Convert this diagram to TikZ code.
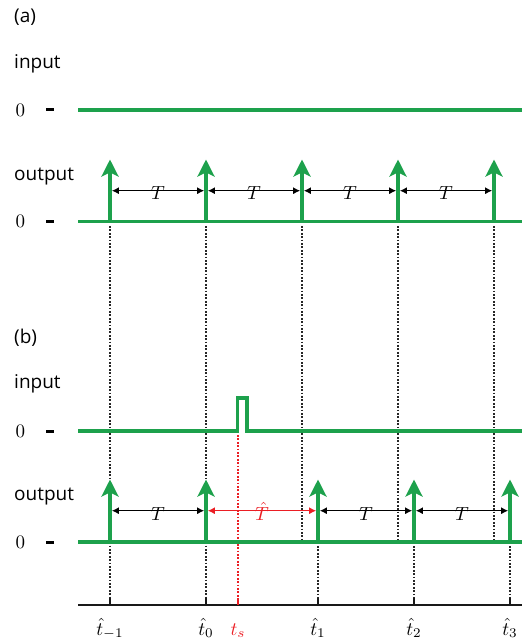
\documentclass[tikz,border=0pt]{standalone}
\usepackage{graphicx}
\usepackage{fontspec}
\newfontfamily\labfont{Open Sans}
\usetikzlibrary{arrows.meta}
\definecolor{sig}{RGB}{29,161,76}
\definecolor{hot}{RGB}{235,30,36}
\newcommand\bigmath[1]{\scalebox{1.9}{$#1$}}
\tikzset{
  wave/.style={draw=sig, line width=3.2pt, line join=miter},
  spike/.style={draw=sig, line width=3.2pt, -{Stealth[length=17pt,width=17pt,inset=4pt]}},
  period/.style={draw=black, line width=1.3pt, {Latex[length=7pt,width=7pt]}-{Latex[length=7pt,width=7pt]}},
  guide/.style={draw=black!85, line width=1.7pt, dash pattern=on 1.7pt off 1.7pt},
  hotguide/.style={guide, draw=hot},
  zerotick/.style={draw=black, line width=3pt},
  axisline/.style={draw=black!90, line width=2.7pt},
  axistick/.style={draw=black!90, line width=2.6pt},
  lab/.style={font=\labfont\fontsize{19}{22}\selectfont, inner sep=0pt},
  mathlab/.style={inner sep=0pt},
}
\begin{document}
\begin{tikzpicture}[x=1pt,y=-1pt]
\useasboundingbox (0,0) rectangle (522,644);
\def\yAin{110}\def\yAout{221.5}\def\yBin{431}\def\yBout{542}\def\yAx{605}

% ---- row labels ----
\node[lab, anchor=west] (capA) at (14,17) {(a)};
\node[lab, anchor=west] (inA)  at (14,64) {input};
\node[lab, anchor=west] (outA) at (14,177) {output};
\node[lab, anchor=west] (capB) at (14,338) {(b)};
\node[lab, anchor=west] (inB)  at (14,384) {input};
\node[lab, anchor=west] (outB) at (14,497) {output};
\foreach \n/\y in {zAi/\yAin, zAo/\yAout, zBi/\yBin, zBo/\yBout}{
  \node[mathlab] (\n) at (20.5,\y) {\bigmath{0}};
  \coordinate (\n l) at (46,\y);
  \coordinate (\n r) at (54,\y);
  \draw[zerotick] (\n l) -- (\n r);
}

% ---- dotted guides ----
\foreach \n/\x in {m/110, z/206}{
  \coordinate (g\n t) at (\x,226);
  \coordinate (g\n b) at (\x,598);
  \draw[guide] (g\n t) -- (g\n b);
}
\foreach \n/\x in {1/302, 2/398, 3/494}{
  \coordinate (ga\n t) at (\x,226);
  \coordinate (ga\n b) at (\x,539);
  \draw[guide] (ga\n t) -- (ga\n b);
}
\foreach \n/\x in {1/318, 2/414, 3/510}{
  \coordinate (gb\n t) at (\x,546);
  \coordinate (gb\n b) at (\x,598);
  \draw[guide] (gb\n t) -- (gb\n b);
}
\coordinate (gst) at (238,435);
\coordinate (gsb) at (238,598);
\draw[hotguide] (gst) -- (gsb);

% ---- (a) signals ----
\coordinate (aiL) at (78,\yAin);
\coordinate (aiR) at (522,\yAin);
\draw[wave] (aiL) -- (aiR);
\coordinate (aoL) at (78,\yAout);
\coordinate (aoR) at (522,\yAout);
\draw[wave] (aoL) -- (aoR);
\foreach \i/\x in {1/110, 2/206, 3/302, 4/398, 5/494}{
  \coordinate (sa\i) at (\x,\yAout);
  \coordinate (sa\i t) at (\x,159.5);
  \coordinate (pa\i) at (\x,190.7);
  \draw[spike] (sa\i) -- (sa\i t);
}
\foreach \i/\j in {1/2, 2/3, 3/4, 4/5}{
  \draw[period, shorten <=1.8pt, shorten >=1.8pt] (pa\i) -- (pa\j)
    node[mathlab, midway, anchor=base, yshift=-8.7pt] (Ta\i) {\bigmath{T}};
}

% ---- (b) signals ----
\coordinate (biL) at (78,\yBin);
\coordinate (bp1) at (237.7,\yBin);
\coordinate (bp2) at (237.7,398);
\coordinate (bp3) at (247,398);
\coordinate (bp4) at (247,\yBin);
\coordinate (biR) at (522,\yBin);
\draw[wave] (biL) -- (bp1) -- (bp2) -- (bp3) -- (bp4) -- (biR);
\coordinate (boL) at (78,\yBout);
\coordinate (boR) at (522,\yBout);
\draw[wave] (boL) -- (boR);
\foreach \i/\x in {1/110, 2/206, 3/318, 4/414, 5/510}{
  \coordinate (sb\i) at (\x,\yBout);
  \coordinate (sb\i t) at (\x,479.5);
  \coordinate (pb\i) at (\x,510.7);
  \draw[spike] (sb\i) -- (sb\i t);
}
\foreach \i/\j in {1/2, 3/4, 4/5}{
  \draw[period, shorten <=1.8pt, shorten >=1.8pt] (pb\i) -- (pb\j)
    node[mathlab, midway, anchor=base, yshift=-9.3pt] (Tb\i) {\bigmath{T}};
}
\draw[period, draw=hot, shorten <=1.8pt, shorten >=1.8pt] (pb2) -- (pb3)
  node[mathlab, midway, anchor=base, yshift=-9.3pt, text=hot] (That) {\bigmath{\hat{T}}};

% ---- time axis ----
\coordinate (axL) at (78,\yAx);
\coordinate (axR) at (522,\yAx);
\draw[axisline] (axL) -- (axR);
\foreach \n/\x/\t in {m/110/{\hat{t}_{-1}}, 0/206/{\hat{t}_0}, 1/318/{\hat{t}_1}, 2/414/{\hat{t}_2}, 3/510/{\hat{t}_3}}{
  \coordinate (tk\n) at (\x,598);
  \coordinate (tk\n b) at (\x,\yAx);
  \draw[axistick] (tk\n) -- (tk\n b);
  \node[mathlab, anchor=base] (lt\n) at (\x,635) {\bigmath{\t}};
}
\coordinate (tks) at (238,598);
\coordinate (tksb) at (238,\yAx);
\draw[axistick, draw=hot] (tks) -- (tksb);
\node[mathlab, anchor=base, text=hot] (lts) at (238,635) {\bigmath{t_s}};
\end{tikzpicture}
\end{document}
